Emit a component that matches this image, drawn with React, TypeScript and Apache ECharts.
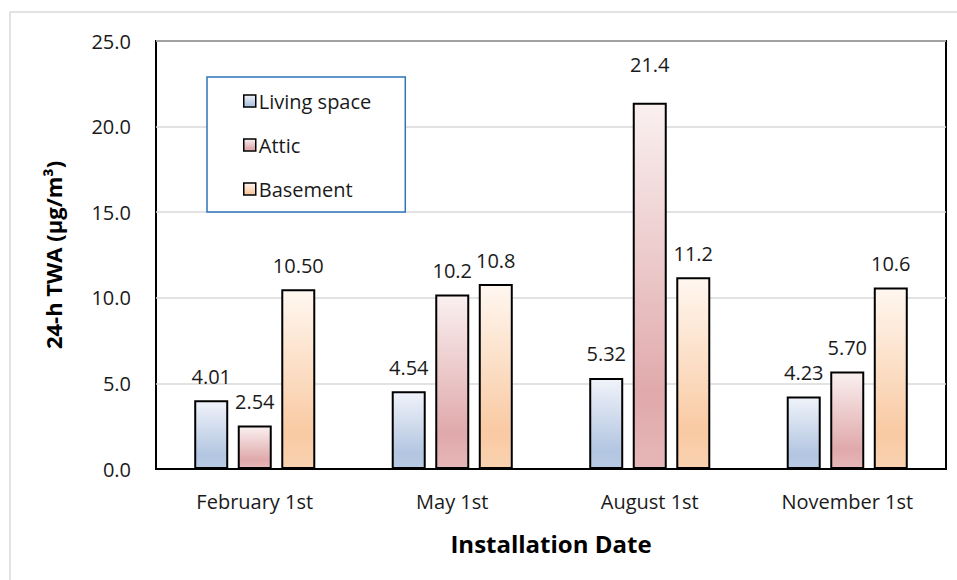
import React, { useEffect, useRef } from "react";
import * as echarts from "echarts";

const categories = ["February 1st", "May 1st", "August 1st", "November 1st"];
const seriesNames = ["Living space", "Attic", "Basement"];
const livingValues = [4.01, 4.54, 5.32, 4.23];
const atticValues = [2.54, 10.2, 21.4, 5.7];
const basementValues = [10.5, 10.8, 11.2, 10.6];
const livingLabels = ["4.01", "4.54", "5.32", "4.23"];
const atticLabels = ["2.54", "10.2", "21.4", "5.70"];
const basementLabels = ["10.50", "10.8", "11.2", "10.6"];
const yTicks = { min: 0, max: 25, interval: 5 };

const FONT = "'Open Sans', Lato, sans-serif";
const FS = 20;

function grad(top: string, mid: string, bottom: string) {
  return new echarts.graphic.LinearGradient(0, 0, 0, 1, [
    { offset: 0, color: top },
    { offset: 0.8, color: mid },
    { offset: 1, color: bottom },
  ]);
}

export default function App() {
  const ref = useRef<HTMLDivElement>(null);
  useEffect(() => {
    const chart = echarts.init(ref.current!, null, { renderer: "svg" });
    const fills = [
      grad("#f0f3fa", "#b3c6e1", "#b8cae3"),
      grad("#faf0f0", "#e0a9ab", "#e6b7b8"),
      grad("#fff7f0", "#f9caa3", "#f9d2b0"),
    ];
    const values = [livingValues, atticValues, basementValues];
    const labels = [livingLabels, atticLabels, basementLabels];
    const series = seriesNames.map((name, si) => ({
      name,
      type: "bar",
      barWidth: 34,
      barGap: "28%",
      itemStyle: { color: fills[si], borderColor: "#000", borderWidth: 2 },
      label: {
        show: true,
        position: "top",
        distance: 14,
        fontFamily: FONT,
        fontSize: FS,
        color: "#1a1a1a",
        formatter: (p: any) => labels[si][p.dataIndex],
      },
      data: values[si].map((v, i) =>
        si === 1 && i === 2 ? { value: v, label: { distance: 28 } } : v
      ),
    }));
    chart.setOption({
      animation: false,
      backgroundColor: "#fff",
      textStyle: { fontFamily: FONT },
      graphic: [
        {
          type: "rect",
          shape: { x: 10, y: 12, width: 980, height: 600 },
          style: { fill: "none", stroke: "#d9d9d9", lineWidth: 1.5 },
          z: -10,
          silent: true,
        },
      ],
      legend: {
        orient: "vertical",
        left: 207,
        top: 77,
        icon: "rect",
        itemWidth: 12,
        itemHeight: 12,
        itemGap: 24,
        padding: [14, 34, 13, 36],
        borderColor: "#2e75b6",
        borderWidth: 1.5,
        backgroundColor: "#fff",
        textStyle: { fontFamily: FONT, fontSize: FS, color: "#1a1a1a", padding: [0, 0, 0, -2] },
        itemStyle: { borderColor: "#000", borderWidth: 1.5 },
        data: seriesNames,
      },
      grid: {
        left: 156,
        right: 11,
        top: 41,
        bottom: 111,
        show: true,
        borderColor: "#000",
        borderWidth: 2,
        containLabel: false,
      },
      xAxis: {
        type: "category",
        data: categories,
        axisTick: { show: false },
        axisLine: { lineStyle: { color: "#000", width: 2 } },
        axisLabel: { fontFamily: FONT, fontSize: FS, color: "#1a1a1a", margin: 22 },
        name: "Installation Date",
        nameLocation: "middle",
        nameGap: 62,
        nameTextStyle: { fontFamily: FONT, fontSize: 24, fontWeight: "bold", color: "#000" },
      },
      yAxis: {
        type: "value",
        min: yTicks.min,
        max: yTicks.max,
        interval: yTicks.interval,
        axisLine: { show: false },
        axisTick: { show: false },
        splitLine: { lineStyle: { color: "#d9d9d9", width: 1.5 } },
        axisLabel: {
          fontFamily: FONT,
          fontSize: FS,
          color: "#1a1a1a",
          margin: 25,
          formatter: (v: number) => v.toFixed(1),
        },
        name: "24-h TWA (µg/m³)",
        nameLocation: "middle",
        nameGap: 92,
        nameTextStyle: { fontFamily: FONT, fontSize: 22, fontWeight: "bold", color: "#000" },
      },
      series,
    });
    return () => chart.dispose();
  }, []);
  return (
    <div
      ref={ref}
      style={{ position: "fixed", left: 0, top: 0, width: 957, height: 580 }}
    />
  );
}
